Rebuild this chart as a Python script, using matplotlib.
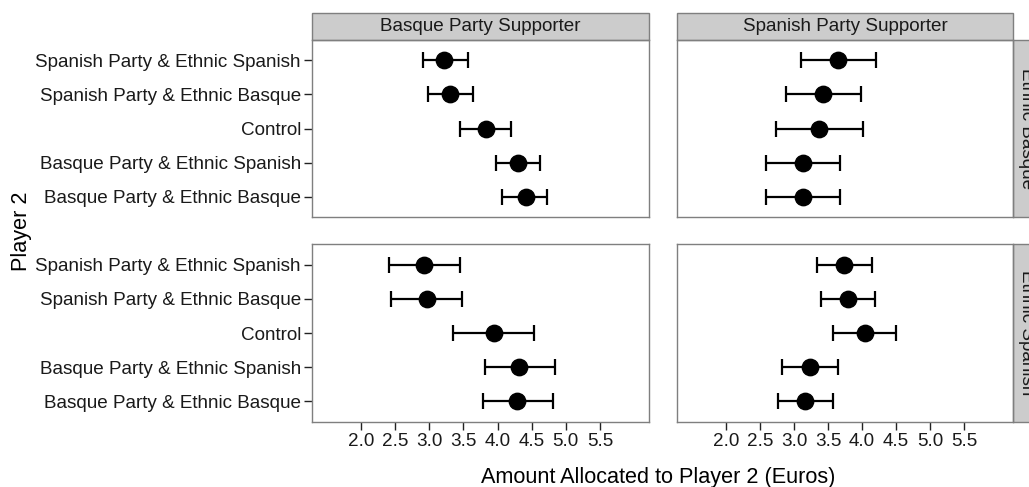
import matplotlib
matplotlib.use("Agg")
import matplotlib.pyplot as plt
from matplotlib.patches import Rectangle

plt.rcParams['font.family'] = ['Liberation Sans', 'DejaVu Sans']

categories = ["Spanish Party & Ethnic Spanish", "Spanish Party & Ethnic Basque",
              "Control", "Basque Party & Ethnic Spanish", "Basque Party & Ethnic Basque"]
col_labels = ["Basque Party Supporter", "Spanish Party Supporter"]
row_labels = ["Ethnic Basque", "Ethnic Spanish"]
x_ticks = [2.0, 2.5, 3.0, 3.5, 4.0, 4.5, 5.0, 5.5]

# Ethnic Basque row
bps_eb_mean = [3.22, 3.31, 3.83, 4.30, 4.41]
bps_eb_lo   = [2.90, 2.98, 3.45, 3.97, 4.07]
bps_eb_hi   = [3.56, 3.64, 4.20, 4.62, 4.73]
sps_eb_mean = [3.65, 3.43, 3.37, 3.13, 3.13]
sps_eb_lo   = [3.11, 2.88, 2.74, 2.59, 2.59]
sps_eb_hi   = [4.21, 3.99, 4.01, 3.68, 3.68]
# Ethnic Spanish row
bps_es_mean = [2.92, 2.96, 3.95, 4.31, 4.29]
bps_es_lo   = [2.41, 2.44, 3.35, 3.81, 3.78]
bps_es_hi   = [3.45, 3.48, 4.54, 4.84, 4.81]
sps_es_mean = [3.74, 3.79, 4.04, 3.23, 3.16]
sps_es_lo   = [3.34, 3.39, 3.57, 2.83, 2.76]
sps_es_hi   = [4.14, 4.19, 4.50, 3.64, 3.57]

panels = [[(bps_eb_mean, bps_eb_lo, bps_eb_hi), (sps_eb_mean, sps_eb_lo, sps_eb_hi)],
          [(bps_es_mean, bps_es_lo, bps_es_hi), (sps_es_mean, sps_es_lo, sps_es_hi)]]

W, H = 1029, 487
fig = plt.figure(figsize=(W / 100, H / 100), dpi=100)

col_x = [(312, 649), (677, 1013)]
row_y = [(40, 217), (244, 422)]
strip_px = 27
FS = 13.6
grey_border = "#7f7f7f"

ypos = list(range(1, len(categories) + 1))

for r in range(2):
    for c in range(2):
        x0, x1 = col_x[c]
        y0, y1 = row_y[r]
        ax = fig.add_axes([x0 / W, (H - y1) / H, (x1 - x0) / W, (y1 - y0) / H])
        mean, lo, hi = panels[r][c]
        xerr = [[m - l for m, l in zip(mean, lo)], [h - m for m, h in zip(mean, hi)]]
        ax.errorbar(mean, ypos, xerr=xerr, fmt='o', color='black', ms=11.8,
                    elinewidth=1.6, capsize=6.0, capthick=1.6, zorder=3)
        ax.set_xlim(1.28, 6.22)
        ax.set_ylim(5.6, 0.4)
        for s in ax.spines.values():
            s.set_color(grey_border)
            s.set_linewidth(1.0)
        ax.tick_params(axis='both', length=6.0, width=1.0, color='#222222',
                       labelsize=FS, labelcolor='#1a1a1a', pad=2.0)
        ax.set_yticks(ypos)
        if c == 0:
            ax.set_yticklabels(categories)
        else:
            ax.tick_params(axis='y', left=False, labelleft=False)
        if r == 1:
            ax.set_xticks(x_ticks)
            ax.set_xticklabels([f"{v:.1f}" for v in x_ticks])
        else:
            ax.tick_params(axis='x', bottom=False, labelbottom=False)
        # top strip
        if r == 0:
            h = strip_px / (y1 - y0)
            ax.add_patch(Rectangle((0, 1), 1, h, transform=ax.transAxes, clip_on=False,
                                   facecolor="#cccccc", edgecolor=grey_border, lw=1.0))
            ax.text(0.5, 1 + h / 2, col_labels[c], transform=ax.transAxes,
                    ha='center', va='center', fontsize=FS, color='#1a1a1a')
        # right strip (cut off by the figure edge, as in the reference)
        if c == 1:
            w = strip_px / (x1 - x0)
            ax.add_patch(Rectangle((1, 0), w, 1, transform=ax.transAxes, clip_on=False,
                                   facecolor="#cccccc", edgecolor=grey_border, lw=1.0))
            ax.text(1 + w / 2, 0.5, row_labels[r], transform=ax.transAxes,
                    ha='center', va='center', rotation=-90, fontsize=FS, color='#1a1a1a')

fig.text(658 / W, 1 - 478 / H, "Amount Allocated to Player 2 (Euros)",
         ha='center', va='center', fontsize=15.6, color='black')
fig.text(21 / W, 1 - 231 / H, "Player 2", ha='center', va='center',
         rotation=90, fontsize=15.6, color='black')

fig.savefig("out.png", dpi=100)
